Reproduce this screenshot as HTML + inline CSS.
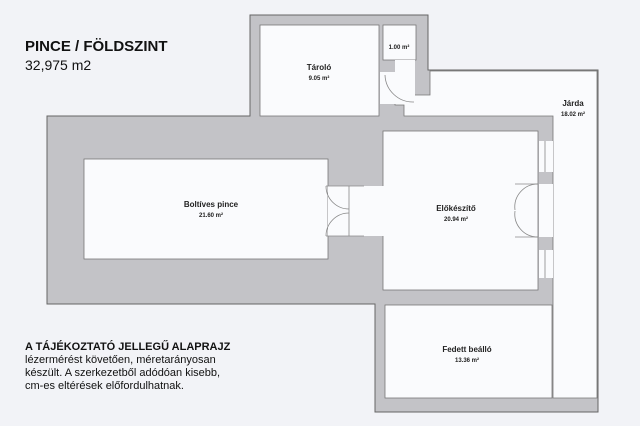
<!DOCTYPE html><html><head><style>body{margin:0;background:#f2f3f7;}svg{display:block}</style></head><body>
<svg width="640" height="426" viewBox="0 0 640 426" font-family="Liberation Sans, sans-serif">
<rect width="640" height="426" fill="#f2f3f7"/>
<polygon points="250,15 428,15 428,70 598,70 598,412 375,412 375,304 47,304 47,116 250,116" fill="#c3c3c7" stroke="#666" stroke-width="1"/>
<g fill="#fafbfd" stroke="#777" stroke-width="0.8">
<rect x="260" y="25" width="119" height="91"/>
<rect x="383" y="25" width="33" height="35"/>
<rect x="84" y="159" width="244" height="100"/>
<rect x="383" y="131" width="155" height="159"/>
<rect x="385" y="305" width="167" height="93"/>
<polygon points="430,71 597,71 597,398 553,398 553,116 404,116 404,105 395,105 395,95 430,95"/>
</g>
<g fill="#fafbfd">
<rect x="380" y="72" width="35" height="32"/>
<rect x="395" y="60" width="20" height="12"/>
<rect x="328" y="186" width="56" height="50"/>
<rect x="539" y="184" width="14" height="53"/>
<rect x="539" y="141" width="14" height="31"/>
<rect x="539" y="250" width="14" height="28"/>
</g>
<g fill="none" stroke="#888" stroke-width="0.8">
<path d="M326,186 A23,23 0 0 0 349,209 M326,236 A23,23 0 0 1 349,213"/>
<path d="M538,184 A23,23 0 0 0 515,210 M538,237 A23,23 0 0 1 515,211"/>
<path d="M385,75 A28,28 0 0 0 414,102"/>
<line x1="349" y1="186" x2="349" y2="236"/><line x1="326" y1="186" x2="364" y2="186"/><line x1="326" y1="236" x2="364" y2="236"/>
<line x1="515" y1="184" x2="538" y2="184"/><line x1="515" y1="237" x2="538" y2="237"/>
<line x1="545" y1="141" x2="545" y2="172"/><line x1="545" y1="250" x2="545" y2="278"/>
</g>
<g text-anchor="middle" fill="#222" font-weight="bold">
<text x="319" y="70" font-size="8">Tároló</text><text x="319" y="80" font-size="6">9.05 m²</text>
<text x="399" y="49" font-size="6">1.00 m²</text>
<text x="573" y="106" font-size="8">Járda</text><text x="573" y="116" font-size="6">18.02 m²</text>
<text x="211" y="207" font-size="8">Boltíves pince</text><text x="211" y="217" font-size="6">21.60 m²</text>
<text x="456" y="211" font-size="8">Előkészítő</text><text x="456" y="221" font-size="6">20.94 m²</text>
<text x="467" y="352" font-size="8">Fedett beálló</text><text x="467" y="362" font-size="6">13.36 m²</text>
</g>
<text x="25" y="51" font-size="15" font-weight="bold" fill="#111">PINCE / FÖLDSZINT</text>
<text x="25" y="70" font-size="14" fill="#111">32,975 m2</text>
<text x="25" y="350" font-size="11" font-weight="bold" fill="#111">A TÁJÉKOZTATÓ JELLEGŰ ALAPRAJZ</text>
<text x="25" y="363" font-size="11" fill="#111">lézermérést követően, méretarányosan</text>
<text x="25" y="376" font-size="11" fill="#111">készült. A szerkezetből adódóan kisebb,</text>
<text x="25" y="389" font-size="11" fill="#111">cm-es eltérések előfordulhatnak.</text>
</svg></body></html>
